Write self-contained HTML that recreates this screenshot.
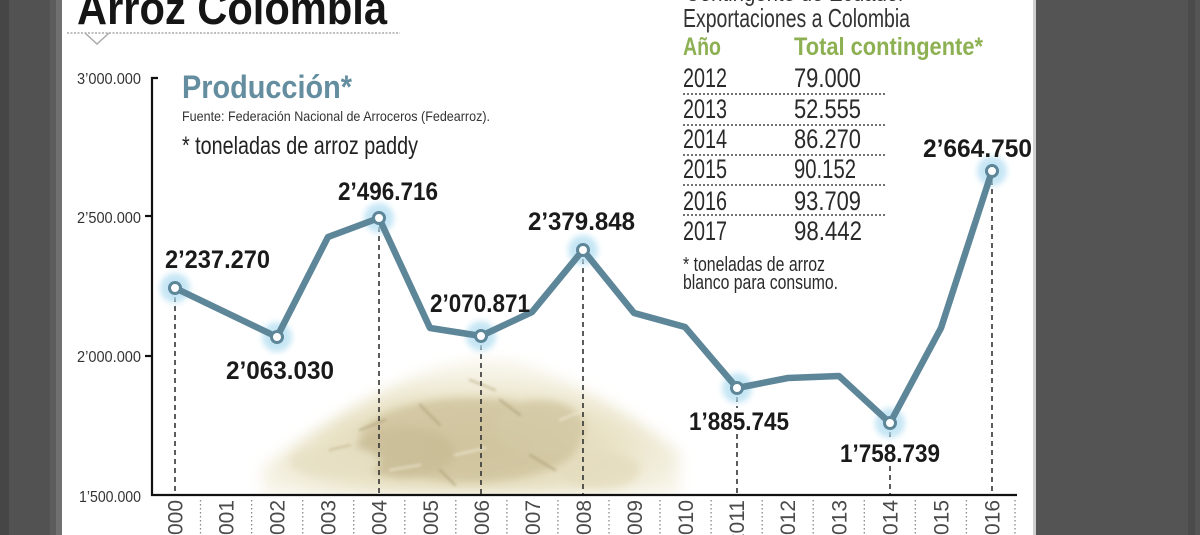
<!DOCTYPE html>
<html><head><meta charset="utf-8"><style>
html,body{margin:0;padding:0;background:#fff;width:1200px;height:535px;overflow:hidden}
svg{display:block}
text{font-family:"Liberation Sans Narrow","Liberation Sans",sans-serif}
</style></head><body>
<svg width="1200" height="535" viewBox="0 0 1200 535" xmlns="http://www.w3.org/2000/svg">
<defs>
<filter id="blur4" x="-20%" y="-20%" width="140%" height="140%"><feGaussianBlur stdDeviation="4"/></filter>
<filter id="blur8" x="-30%" y="-30%" width="160%" height="160%"><feGaussianBlur stdDeviation="7"/></filter>
<filter id="blur2" x="-50%" y="-50%" width="200%" height="200%"><feGaussianBlur stdDeviation="3"/></filter>
<filter id="blur1" x="-20%" y="-20%" width="140%" height="140%"><feGaussianBlur stdDeviation="1.2"/></filter>
<radialGradient id="rice" cx="0.5" cy="0.65" r="0.55">
<stop offset="0" stop-color="#d9cfaa"/><stop offset="0.6" stop-color="#e8e1c4"/><stop offset="1" stop-color="#f7f4e8"/>
</radialGradient>
</defs>
<rect width="1200" height="535" fill="#fff"/>

<!-- side bars -->
<rect x="0" y="0" width="62" height="535" fill="#525252"/>
<rect x="0" y="0" width="9" height="535" fill="#464646"/>
<rect x="50" y="0" width="6" height="535" fill="#5c5c5c"/>
<rect x="56" y="0" width="6" height="535" fill="#707070"/>
<rect x="1033" y="0" width="167" height="535" fill="#545454"/>
<rect x="1033" y="0" width="3" height="535" fill="#cfcfcf"/>
<rect x="1188" y="0" width="7" height="535" fill="#4b4b4b"/>

<!-- title -->
<text x="77" y="24" font-size="46" font-weight="bold" fill="#151515" textLength="310" lengthAdjust="spacingAndGlyphs">Arroz Colombia</text>
<line x1="67" y1="33" x2="400" y2="33" stroke="#aaa" stroke-width="1.5" stroke-dasharray="2 1.5"/>
<polyline points="85,33 97,44 109,33" fill="none" stroke="#aaa" stroke-width="1.5"/>

<!-- rice pile -->
<g filter="url(#blur8)">
<path d="M262,468 C300,440 350,405 410,378 C445,362 490,354 525,364 C585,385 640,420 680,452 L680,495 L262,495 Z" fill="url(#rice)"/>
</g>
<g filter="url(#blur4)" opacity="0.75">
<ellipse cx="470" cy="440" rx="110" ry="42" fill="#cdc19a"/>
<ellipse cx="405" cy="452" rx="50" ry="26" fill="#c4b78f"/>
<ellipse cx="540" cy="428" rx="45" ry="28" fill="#cfc49e"/>
<ellipse cx="600" cy="470" rx="40" ry="18" fill="#e4dcbd"/>
<ellipse cx="335" cy="462" rx="45" ry="16" fill="#e6dfc3"/>
</g>
<g filter="url(#blur1)" stroke-width="2.5" stroke-linecap="round" opacity="0.55">
<line x1="360" y1="430" x2="385" y2="420" stroke="#a99b72"/>
<line x1="420" y1="405" x2="440" y2="425" stroke="#a99b72"/>
<line x1="455" y1="455" x2="485" y2="448" stroke="#f4efdc"/>
<line x1="500" y1="400" x2="520" y2="415" stroke="#a99b72"/>
<line x1="530" y1="455" x2="555" y2="470" stroke="#a99b72"/>
<line x1="390" y1="470" x2="420" y2="465" stroke="#f4efdc"/>
<line x1="560" y1="420" x2="585" y2="410" stroke="#f4efdc"/>
<line x1="470" y1="380" x2="495" y2="390" stroke="#b8ab82"/>
<line x1="440" y1="470" x2="455" y2="485" stroke="#a99b72"/>
<line x1="330" y1="450" x2="350" y2="445" stroke="#c2b58c"/>
</g>
<rect x="150" y="495" width="880" height="40" fill="#fff"/>

<!-- Producción -->
<text x="182" y="98" font-size="32" font-weight="bold" fill="#648ea0" textLength="170" lengthAdjust="spacingAndGlyphs">Producción*</text>
<text x="182" y="121" font-size="14" fill="#333" textLength="308" lengthAdjust="spacingAndGlyphs">Fuente: Federación Nacional de Arroceros (Fedearroz).</text>
<text x="182" y="154" font-size="25" fill="#222" textLength="236" lengthAdjust="spacingAndGlyphs">* toneladas de arroz paddy</text>

<!-- table -->
<text x="685" y="1" font-size="24" fill="#333" textLength="220" lengthAdjust="spacingAndGlyphs">Contingente de Ecuador</text>
<text x="683" y="27" font-size="26" fill="#333" textLength="227" lengthAdjust="spacingAndGlyphs">Exportaciones a Colombia</text>
<text x="683" y="55" font-size="25" font-weight="bold" fill="#8db152" textLength="38" lengthAdjust="spacingAndGlyphs">Año</text>
<text x="794" y="55" font-size="25" font-weight="bold" fill="#8db152" textLength="189" lengthAdjust="spacingAndGlyphs">Total contingente*</text>
<g font-size="27" fill="#2a2a2a">
<text x="683" y="87" textLength="44" lengthAdjust="spacingAndGlyphs">2012</text><text x="794" y="87" textLength="67" lengthAdjust="spacingAndGlyphs">79.000</text>
<text x="683" y="118" textLength="44" lengthAdjust="spacingAndGlyphs">2013</text><text x="794" y="118" textLength="67" lengthAdjust="spacingAndGlyphs">52.555</text>
<text x="683" y="148" textLength="44" lengthAdjust="spacingAndGlyphs">2014</text><text x="794" y="148" textLength="67" lengthAdjust="spacingAndGlyphs">86.270</text>
<text x="683" y="178" textLength="44" lengthAdjust="spacingAndGlyphs">2015</text><text x="794" y="178" textLength="62" lengthAdjust="spacingAndGlyphs">90.152</text>
<text x="683" y="210" textLength="44" lengthAdjust="spacingAndGlyphs">2016</text><text x="794" y="210" textLength="67" lengthAdjust="spacingAndGlyphs">93.709</text>
<text x="683" y="240" textLength="44" lengthAdjust="spacingAndGlyphs">2017</text><text x="794" y="240" textLength="68" lengthAdjust="spacingAndGlyphs">98.442</text>
</g>
<g stroke="#444" stroke-width="1.5" stroke-dasharray="2 2">
<line x1="683" y1="94" x2="885" y2="94"/>
<line x1="683" y1="125" x2="885" y2="125"/>
<line x1="683" y1="155" x2="885" y2="155"/>
<line x1="683" y1="185" x2="885" y2="185"/>
<line x1="683" y1="215" x2="885" y2="215"/>
</g>
<text x="683" y="271" font-size="20" fill="#2a2a2a" textLength="142" lengthAdjust="spacingAndGlyphs">* toneladas de arroz</text>
<text x="683" y="289" font-size="20" fill="#2a2a2a" textLength="155" lengthAdjust="spacingAndGlyphs">blanco para consumo.</text>

<!-- y axis -->
<g font-size="16" fill="#333" text-anchor="end">
<text x="141" y="84" textLength="64" lengthAdjust="spacingAndGlyphs">3’000.000</text>
<text x="141" y="223" textLength="64" lengthAdjust="spacingAndGlyphs">2’500.000</text>
<text x="141" y="362" textLength="64" lengthAdjust="spacingAndGlyphs">2’000.000</text>
<text x="141" y="502" textLength="62" lengthAdjust="spacingAndGlyphs">1’500.000</text>
</g>
<g stroke="#111" stroke-width="2.2" fill="none">
<polyline points="158,78 152,78 152,495 1017,495"/>
<line x1="145" y1="216" x2="152" y2="216"/>
<line x1="145" y1="356" x2="152" y2="356"/>
</g>

<!-- dashed drop lines -->
<g stroke="#333" stroke-width="1.6" stroke-dasharray="5 4">
<line x1="175" y1="297" x2="175" y2="494"/>
<line x1="379" y1="227" x2="379" y2="494"/>
<line x1="481" y1="345" x2="481" y2="494"/>
<line x1="583" y1="259" x2="583" y2="494"/>
<line x1="737" y1="397" x2="737" y2="408"/>
<line x1="737" y1="434" x2="737" y2="494"/>
<line x1="890" y1="432" x2="890" y2="441"/>
<line x1="890" y1="466" x2="890" y2="494"/>
<line x1="992" y1="180" x2="992" y2="494"/>
</g>

<!-- halos -->
<g fill="#b3def2" opacity="0.75" filter="url(#blur2)">
<circle cx="175" cy="288" r="15"/><circle cx="277" cy="337" r="15"/><circle cx="379" cy="218" r="15"/>
<circle cx="481" cy="336" r="15"/><circle cx="583" cy="250" r="15"/><circle cx="737" cy="388" r="15"/>
<circle cx="890" cy="423" r="15"/><circle cx="992" cy="171" r="15"/>
</g>

<!-- series -->
<polyline points="175,288 277,337 328,237 379,218 430,328 481,336 532,312 583,250 634,313 685,327 737,388 788,378 839,376 890,423 941,328 992,171" fill="none" stroke="#5d8699" stroke-width="6.5" stroke-linejoin="round" stroke-linecap="round"/>
<g fill="#fff" stroke="#5d8699" stroke-width="3">
<circle cx="175" cy="288" r="5.5"/><circle cx="277" cy="337" r="5.5"/><circle cx="379" cy="218" r="5.5"/>
<circle cx="481" cy="336" r="5.5"/><circle cx="583" cy="250" r="5.5"/><circle cx="737" cy="388" r="5.5"/>
<circle cx="890" cy="423" r="5.5"/><circle cx="992" cy="171" r="5.5"/>
</g>

<!-- value labels -->
<g font-size="25" font-weight="bold" fill="#1a1a1a" font-family="Liberation Sans, sans-serif">
<text x="165" y="268" textLength="105" lengthAdjust="spacingAndGlyphs">2’237.270</text>
<text x="226" y="379" textLength="108" lengthAdjust="spacingAndGlyphs">2’063.030</text>
<text x="338" y="200" textLength="100" lengthAdjust="spacingAndGlyphs">2’496.716</text>
<text x="430" y="312" textLength="100" lengthAdjust="spacingAndGlyphs">2’070.871</text>
<text x="528" y="230" textLength="107" lengthAdjust="spacingAndGlyphs">2’379.848</text>
<text x="689" y="430" textLength="100" lengthAdjust="spacingAndGlyphs">1’885.745</text>
<text x="840" y="462" textLength="100" lengthAdjust="spacingAndGlyphs">1’758.739</text>
<text x="923" y="157" textLength="109" lengthAdjust="spacingAndGlyphs">2’664.750</text>
</g>

<!-- year separators -->
<g stroke="#888" stroke-width="1.3" stroke-dasharray="1.5 2.5">
<line x1="200.5" y1="500" x2="200.5" y2="535"/><line x1="251.6" y1="500" x2="251.6" y2="535"/>
<line x1="302.7" y1="500" x2="302.7" y2="535"/><line x1="353.7" y1="500" x2="353.7" y2="535"/>
<line x1="404.8" y1="500" x2="404.8" y2="535"/><line x1="455.8" y1="500" x2="455.8" y2="535"/>
<line x1="506.9" y1="500" x2="506.9" y2="535"/><line x1="557.9" y1="500" x2="557.9" y2="535"/>
<line x1="609" y1="500" x2="609" y2="535"/><line x1="660" y1="500" x2="660" y2="535"/>
<line x1="711.1" y1="500" x2="711.1" y2="535"/><line x1="762.2" y1="500" x2="762.2" y2="535"/>
<line x1="813.2" y1="500" x2="813.2" y2="535"/><line x1="864.3" y1="500" x2="864.3" y2="535"/>
<line x1="915.3" y1="500" x2="915.3" y2="535"/><line x1="966.4" y1="500" x2="966.4" y2="535"/>
<line x1="1015" y1="500" x2="1015" y2="535"/>
</g>

<!-- year labels (rotated) -->
<g font-size="21" fill="#4a4a4a" text-anchor="end">
<text transform="translate(182.5,500) rotate(-90)">2000</text>
<text transform="translate(233.6,500) rotate(-90)">2001</text>
<text transform="translate(284.6,500) rotate(-90)">2002</text>
<text transform="translate(335.7,500) rotate(-90)">2003</text>
<text transform="translate(386.7,500) rotate(-90)">2004</text>
<text transform="translate(437.8,500) rotate(-90)">2005</text>
<text transform="translate(488.9,500) rotate(-90)">2006</text>
<text transform="translate(539.9,500) rotate(-90)">2007</text>
<text transform="translate(591,500) rotate(-90)">2008</text>
<text transform="translate(642,500) rotate(-90)">2009</text>
<text transform="translate(693.1,500) rotate(-90)">2010</text>
<text transform="translate(744.2,500) rotate(-90)">2011</text>
<text transform="translate(795.2,500) rotate(-90)">2012</text>
<text transform="translate(846.3,500) rotate(-90)">2013</text>
<text transform="translate(897.3,500) rotate(-90)">2014</text>
<text transform="translate(948.4,500) rotate(-90)">2015</text>
<text transform="translate(999.5,500) rotate(-90)">2016</text>
</g>
</svg>
</body></html>
